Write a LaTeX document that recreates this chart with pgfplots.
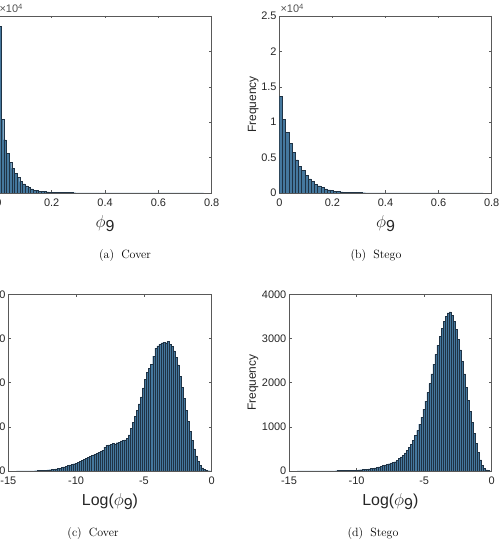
\documentclass[border=0pt]{standalone}
\usepackage{fontspec}
\usepackage{pgfplots}
\usepackage{pgfplotstable}
\pgfplotsset{compat=1.18}
\newfontfamily\arial{Liberation Sans}
\definecolor{barfill}{rgb}{0.27,0.47,0.62}
\definecolor{baredge}{rgb}{0.12,0.20,0.27}
\definecolor{axgray}{rgb}{0.15,0.15,0.15}

% counts, Cover phi_9 (bin width 0.01 from 0)
\pgfplotstableread[row sep=\\]{count\\23500\\10450\\7490\\5600\\4330\\3490\\2780\\2170\\1600\\1270\\990\\750\\565\\420\\340\\280\\230\\190\\160\\135\\115\\98\\84\\72\\62\\54\\47\\41\\36\\31\\27\\24\\21\\18\\16\\14\\12\\11\\10\\9\\8\\7\\6\\6\\5\\5\\4\\4\\4\\3\\3\\3\\3\\2\\2\\2\\2\\2\\2\\2\\1\\1\\1\\1\\1\\1\\1\\1\\1\\1\\1\\1\\1\\1\\1\\1\\1\\0\\}\tabA
% counts, Stego phi_9 (bin width 0.012 from 0)
\pgfplotstableread[row sep=\\]{count\\13600\\10400\\8580\\7030\\5700\\4660\\3810\\3150\\2540\\1980\\1600\\1230\\990\\750\\565\\440\\345\\270\\212\\167\\132\\105\\84\\67\\54\\44\\36\\29\\24\\20\\16\\13\\11\\9\\8\\7\\6\\5\\4\\4\\3\\3\\3\\2\\2\\2\\2\\2\\1\\1\\1\\1\\1\\1\\1\\1\\1\\1\\1\\1\\1\\1\\1\\1\\0\\}\tabB
% counts, Cover log(phi_9) (bin width 0.15 from -14.4)
\pgfplotstableread[row sep=\\]{count\\1\\1\\1\\2\\2\\3\\3\\4\\5\\6\\8\\10\\12\\15\\19\\24\\29\\35\\42\\50\\58\\65\\80\\95\\108\\122\\138\\150\\165\\180\\198\\215\\245\\268\\285\\310\\330\\350\\375\\400\\420\\440\\470\\540\\585\\590\\600\\625\\615\\640\\650\\680\\700\\705\\740\\820\\960\\1100\\1230\\1380\\1520\\1680\\1880\\2080\\2230\\2320\\2420\\2600\\2780\\2830\\2870\\2900\\2920\\2900\\2930\\2860\\2820\\2720\\2580\\2400\\2150\\1900\\1650\\1380\\1130\\900\\690\\500\\340\\220\\130\\70\\35\\15\\6\\2\\0\\}\tabC
% counts, Stego log(phi_9) (bin width 0.15 from -14.4)
\pgfplotstableread[row sep=\\]{count\\1\\1\\1\\1\\1\\1\\2\\2\\2\\2\\2\\3\\3\\3\\3\\4\\4\\5\\5\\6\\7\\7\\8\\10\\11\\13\\15\\17\\19\\22\\25\\29\\33\\37\\42\\48\\54\\61\\69\\78\\95\\108\\122\\136\\150\\165\\182\\195\\210\\245\\280\\320\\360\\410\\460\\530\\600\\690\\800\\920\\1060\\1220\\1400\\1580\\1780\\1980\\2200\\2420\\2640\\2850\\3050\\3230\\3390\\3500\\3580\\3600\\3520\\3380\\3200\\2980\\2740\\2480\\2200\\1900\\1600\\1350\\1100\\850\\620\\420\\250\\130\\60\\25\\8\\2\\0\\}\tabD

\pgfplotsset{
  hist/.style={
    scale only axis, anchor=south west,
    axis line style={draw=black!65, line width=0.5bp},
    tick style={draw=black!65, line width=0.5bp},
    major tick length=2.5bp,
    tick label style={font=\arial\fontsize{11}{13}\selectfont, text=axgray},
    xticklabel style={yshift=-2.5bp},
    yticklabel style={xshift=0.8bp},
    /pgf/number format/assume math mode=true,
    scaled ticks=false,
    xlabel style={at={([yshift=-35bp]axis description cs:0.5,0)}, anchor=base,
      font=\arial\fontsize{16}{18}\selectfont, text=axgray},
    ylabel={Frequency},
  },
  bars/.style={ybar interval, fill=barfill, draw=baredge, line width=0.4bp},
  topaxes/.style={hist, width=212.4bp, height=177bp, xmin=0, xmax=0.8, ymin=0, ymax=25000,
    xtick={0,0.2,0.4,0.6,0.8}, xticklabels={0,0.2,0.4,0.6,0.8},
    ytick={0,5000,10000,15000,20000,25000}, yticklabels={0,0.5,1,1.5,2,2.5},
    xlabel={$\phi$\raisebox{-0.2em}{9}},
    ylabel style={at={([xshift=-26bp]axis description cs:0,0.5)}, anchor=center,
      font=\arial\fontsize{12}{14}\selectfont, text=axgray}},
  botaxes/.style={hist, width=203bp, height=176.7bp, xmin=-15, xmax=0, ymin=0, ymax=4000,
    xtick={-15,-10,-5,0}, xticklabels={-15,-10,-5,0},
    ytick={0,1000,2000,3000,4000}, yticklabels={0,1000,2000,3000,4000},
    xlabel={Log($\phi$\raisebox{-0.2em}{9})},
    ylabel style={at={([xshift=-36bp]axis description cs:0,0.5)}, anchor=center,
      font=\arial\fontsize{12}{14}\selectfont, text=axgray}},
}

\begin{document}
\begin{tikzpicture}[x=1bp,y=1bp]
\useasboundingbox (0,0) rectangle (499,547);
\clip (0,0) rectangle (499,547);

\begin{axis}[topaxes, name=a, at={(-1.6bp,354bp)}, width=213.3bp]
  \addplot[bars] table[x expr={0.01*\coordindex}, y index=0] {\tabA};
\end{axis}
\node[anchor=base west, font=\arial\fontsize{11}{13}\selectfont, text=axgray!80, inner sep=0pt]
  at ([xshift=1bp,yshift=3bp]a.north west) {×10\textsuperscript{4}};

\begin{axis}[topaxes, name=b, at={(279.3bp,354bp)}]
  \addplot[bars] table[x expr={0.012*\coordindex}, y index=0] {\tabB};
\end{axis}
\node[anchor=base west, font=\arial\fontsize{11}{13}\selectfont, text=axgray!80, inner sep=0pt]
  at ([xshift=1bp,yshift=3bp]b.north west) {×10\textsuperscript{4}};

\begin{axis}[botaxes, name=c, at={(8.3bp,76bp)}, width=203.4bp]
  \addplot[bars] table[x expr={-14.4+0.15*\coordindex}, y index=0] {\tabC};
\end{axis}

\begin{axis}[botaxes, name=d, at={(289bp,76bp)}, width=202.7bp]
  \addplot[bars] table[x expr={-14.4+0.15*\coordindex}, y index=0] {\tabD};
\end{axis}

\node[anchor=base, font=\fontsize{12}{14}\selectfont] at (125,288) {(a)\hspace{0.6em}Cover};
\node[anchor=base, font=\fontsize{12}{14}\selectfont] at (376,288) {(b)\hspace{0.6em}Stego};
\node[anchor=base, font=\fontsize{12}{14}\selectfont] at (93,10) {(c)\hspace{0.6em}Cover};
\node[anchor=base, font=\fontsize{12}{14}\selectfont] at (373,10) {(d)\hspace{0.6em}Stego};
\end{tikzpicture}
\end{document}
